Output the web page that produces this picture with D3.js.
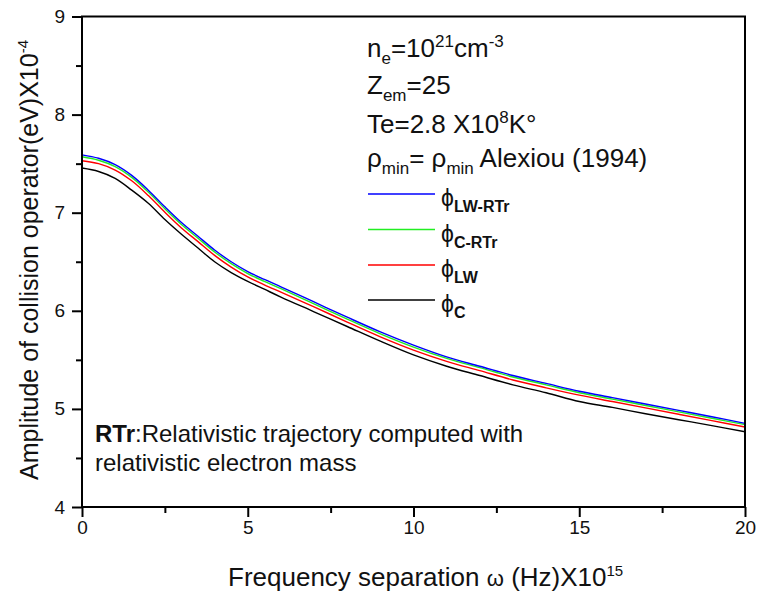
<!DOCTYPE html>
<html>
<head>
<meta charset="utf-8">
<script src="https://cdn.jsdelivr.net/npm/d3@7"></script>
<style>
  html, body { margin: 0; padding: 0; background: #fff; }
  svg { display: block; font-family: "Liberation Sans", Arial, sans-serif; }
</style>
</head>
<body>
<svg id="chart" width="757" height="594"></svg>
<script>
// frequency separation (x 10^15 Hz)
const omega = [0, 0.5, 1, 1.5, 2, 2.5, 3, 3.5, 4, 4.5, 5, 5.5, 6,
  7, 8, 9, 10, 11, 12, 13, 14, 15, 16, 17, 18, 19, 20];

// amplitude of collision operator (x 10^-4 eV)
const phiLWRTr = [7.59, 7.555, 7.49, 7.38, 7.23, 7.06, 6.90, 6.76, 6.62, 6.50, 6.40, 6.32, 6.245,
  6.09, 5.935, 5.785, 5.65, 5.53, 5.435, 5.34, 5.26, 5.18, 5.115, 5.05, 4.985, 4.92, 4.853];
const phiCRTr = [7.57, 7.535, 7.47, 7.36, 7.21, 7.04, 6.88, 6.74, 6.60, 6.48, 6.38, 6.30, 6.225,
  6.07, 5.915, 5.765, 5.63, 5.515, 5.42, 5.325, 5.245, 5.165, 5.10, 5.035, 4.97, 4.905, 4.84];
const phiLW = [7.53, 7.50, 7.435, 7.325, 7.175, 7.005, 6.845, 6.705, 6.565, 6.445, 6.345, 6.265, 6.19,
  6.04, 5.885, 5.735, 5.60, 5.485, 5.39, 5.295, 5.215, 5.14, 5.075, 5.01, 4.945, 4.88, 4.815];
const phiC = [7.455, 7.42, 7.35, 7.23, 7.096, 6.93, 6.78, 6.64, 6.50, 6.39, 6.30, 6.22, 6.14,
  5.99, 5.84, 5.69, 5.55, 5.435, 5.34, 5.245, 5.165, 5.075, 5.015, 4.95, 4.89, 4.83, 4.767];

const seriesNames = ['LW-RTr', 'C-RTr', 'LW', 'C'];
const seriesValues = [phiLWRTr, phiCRTr, phiLW, phiC];
const seriesColors = ['#0000ff', '#22ee22', '#ff0000', '#000000'];

const xTicks = [0, 5, 10, 15, 20];
const yTicks = [4, 5, 6, 7, 8, 9];

// plot box in pixels
const LEFT = 82, RIGHT = 745, TOP = 16.5, BOTTOM = 507;

const svg = d3.select('#chart');
const x = d3.scaleLinear().domain([0, 20]).range([LEFT, RIGHT]);
const y = d3.scaleLinear().domain([4, 9]).range([BOTTOM, TOP]);

// Rich text: list of segments {t, shift: 'sub'|'sup', size, bold}
function richText(g, px, py, segments, baseSize, attrs = {}) {
  const text = g.append('text').attr('x', px).attr('y', py)
    .attr('font-size', baseSize).attr('fill', '#111');
  Object.entries(attrs).forEach(([k, v]) => text.attr(k, v));
  let offset = 0;
  segments.forEach(seg => {
    const span = text.append('tspan').text(seg.t);
    const shift = seg.shift === 'sub' ? baseSize * 0.28 : seg.shift === 'sup' ? -baseSize * 0.4 : 0;
    span.attr('dy', shift - offset);
    offset = shift;
    if (seg.size) span.attr('font-size', seg.size);
    if (seg.bold) span.attr('font-weight', 'bold');
  });
  return text;
}

// curves (black drawn first, blue on top)
const line = d3.line().x((d, i) => x(omega[i])).y(d => y(d)).curve(d3.curveCatmullRom.alpha(0.5));
svg.append('g').selectAll('path').data(seriesValues.map((v, i) => ({ v, c: seriesColors[i] })).reverse())
  .join('path')
  .attr('d', d => line(d.v))
  .attr('fill', 'none').attr('stroke', d => d.c).attr('stroke-width', 1.4);

// axes
const xAxis = d3.axisBottom(x).tickValues(d3.range(0, 20.01, 2.5)).tickSize(6)
  .tickFormat(d => xTicks.includes(d) ? d : '');
const gx = svg.append('g').attr('transform', `translate(0,${BOTTOM})`).call(xAxis);
gx.selectAll('.tick line').attr('y2', d => xTicks.includes(d) ? 10 : 6);
gx.selectAll('.tick text').attr('font-size', 19).attr('y', 14).attr('font-family', null);

const yAxis = d3.axisLeft(y).tickValues(d3.range(4, 9.01, 0.5)).tickSize(6)
  .tickFormat(d => yTicks.includes(d) ? d : '');
const gy = svg.append('g').attr('transform', `translate(${LEFT},0)`).call(yAxis);
gy.selectAll('.tick line').attr('x2', d => yTicks.includes(d) ? -10 : -6);
gy.selectAll('.tick text').attr('font-size', 19).attr('x', -17).attr('font-family', null);

[gx, gy].forEach(g => {
  g.select('.domain').remove();
  g.selectAll('.tick line').attr('stroke', '#000').attr('stroke-width', 2);
  g.selectAll('.tick text').attr('fill', '#111');
});

// frame
svg.append('rect').attr('x', LEFT).attr('y', TOP).attr('width', RIGHT - LEFT).attr('height', BOTTOM - TOP)
  .attr('fill', 'none').attr('stroke', '#000').attr('stroke-width', 2);

// axis titles
richText(svg, 228, 586, [{ t: 'Frequency separation ' }, { t: 'ω', size: 22 }, { t: ' (Hz)X10' }, { t: '15', shift: 'sup', size: 15 }], 26);
richText(svg, 0, 0, [{ t: 'Amplitude of collision operator(eV)X10' }, { t: '-4', shift: 'sup', size: 15 }], 25,
  { transform: 'translate(38,260) rotate(-90)', 'text-anchor': 'middle' });

// parameter annotations
const ann = svg.append('g');
richText(ann, 367, 57, [{ t: 'n' }, { t: 'e', shift: 'sub', size: 17 }, { t: '=10' }, { t: '21', shift: 'sup', size: 17 }, { t: 'cm' }, { t: '-3', shift: 'sup', size: 17 }], 26);
richText(ann, 367, 94, [{ t: 'Z' }, { t: 'em', shift: 'sub', size: 17 }, { t: '=25' }], 26);
richText(ann, 367, 133, [{ t: 'Te=2.8 X10' }, { t: '8', shift: 'sup', size: 17 }, { t: 'K°' }], 26);
richText(ann, 367, 167, [{ t: 'ρ' }, { t: 'min', shift: 'sub', size: 17 }, { t: '= ρ' }, { t: 'min', shift: 'sub', size: 17 }, { t: ' Alexiou (1994)' }], 26);

// legend
const legendY = [194, 229.5, 265, 300];
seriesNames.forEach((name, i) => {
  svg.append('line').attr('x1', 368).attr('x2', 435).attr('y1', legendY[i]).attr('y2', legendY[i])
    .attr('stroke', seriesColors[i]).attr('stroke-width', 1.4);
  richText(svg, 441, legendY[i] + 12, [{ t: 'ϕ' }, { t: name, shift: 'sub', size: 16, bold: true }], 23);
});

// note
richText(svg, 95, 442, [{ t: 'RTr', bold: true }, { t: ':Relativistic trajectory computed with' }], 24);
richText(svg, 95, 471, [{ t: 'relativistic electron mass' }], 24);
</script>
</body>
</html>
